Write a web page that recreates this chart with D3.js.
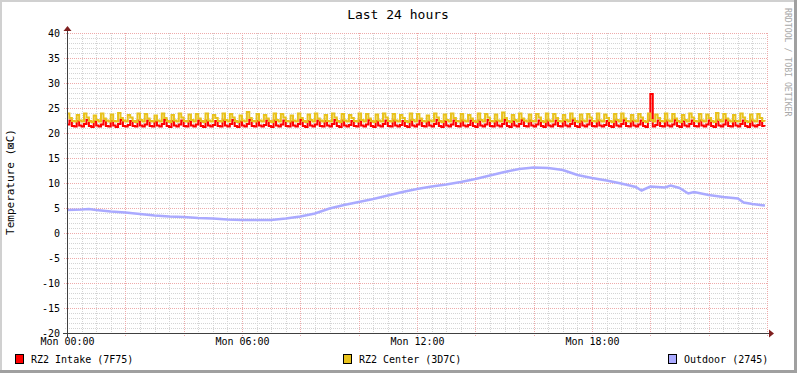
<!DOCTYPE html>
<meta charset="utf-8">
<html>
<head>
	<script src="https://cdn.jsdelivr.net/npm/d3@7/dist/d3.min.js"></script>
	<style>
		body { margin: 0; background: #fff; }
		text { font-family: "DejaVu Sans Mono", monospace; }
	</style>
</head>
<body>
<script>
	var title = "Last 24 hours";
	var yTitle = "Temperature (\u22A0C)";
	var watermark = "RRDTOOL / TOBI OETIKER";

	var xLabels = ["Mon 00:00", "Mon 06:00", "Mon 12:00", "Mon 18:00"];
	var xLabelHours = [0, 6, 12, 18];
	var yTicks = [40, 35, 30, 25, 20, 15, 10, 5, 0, -5, -10, -15, -20];

	var seriesNames = ["RZ2 Intake (7F75)", "RZ2 Center (3D7C)", "Outdoor (2745)"];
	var seriesColors = ["#ff0000", "#e8c21c", "#aaaaff"];

	// 5 minute steps, 288 per series
	var intake = [
		21.7,22.5,21.4,21.3,22.4,21.5,21.3,21.8,22.6,21.4,21.2,22.3,
		21.5,21.3,21.7,22.5,21.4,21.3,22.4,21.5,21.2,21.8,22.6,21.4,
		21.3,21.6,22.4,21.4,21.3,22.5,21.5,21.3,21.7,22.5,21.4,21.3,
		22.3,21.5,21.3,21.8,22.6,21.4,21.2,22.4,21.5,21.3,21.7,22.5,
		21.4,21.3,22.4,21.5,21.3,21.7,22.5,21.4,21.2,22.5,21.5,21.3,
		21.6,22.4,21.4,21.3,22.5,21.5,21.3,21.8,22.6,21.4,21.2,22.3,
		21.5,21.3,21.8,22.6,21.4,21.3,22.4,21.5,21.3,21.6,22.5,21.4,
		21.2,22.5,21.5,21.3,21.7,22.5,21.4,21.3,22.3,21.5,21.3,21.8,
		22.6,21.4,21.2,22.4,21.5,21.3,21.7,22.5,21.4,21.3,22.4,21.5,
		21.3,21.8,22.6,21.4,21.2,22.5,21.5,21.3,21.6,22.4,21.4,21.3,
		22.5,21.5,21.3,21.7,22.6,21.4,21.2,22.4,21.5,21.3,21.8,22.5,
		21.4,21.3,22.5,21.5,21.3,21.6,22.4,21.4,21.2,22.5,21.5,21.3,
		21.7,22.5,21.4,21.3,22.3,21.5,21.3,21.8,22.6,21.4,21.2,22.4,
		21.5,21.3,21.7,22.5,21.4,21.3,22.5,21.5,21.3,21.6,22.5,21.4,
		21.2,22.5,21.5,21.3,21.7,22.6,21.4,21.3,22.4,21.5,21.3,21.8,
		22.6,21.4,21.2,22.4,21.5,21.3,21.8,22.6,21.4,21.3,22.5,21.5,
		21.3,21.7,22.5,21.4,21.2,22.5,21.5,21.3,21.7,22.5,21.4,21.3,
		22.4,21.5,21.3,21.8,22.6,21.4,21.2,22.4,21.5,21.3,21.7,22.5,
		21.4,21.3,22.5,21.5,21.3,21.6,22.4,21.4,21.2,22.5,21.5,21.3,
		21.8,22.6,21.4,21.3,22.4,21.5,21.3,21.7,22.5,21.4,21.2,22.5,
		27.8,21.3,21.6,22.5,21.4,21.3,22.5,21.5,21.3,21.7,22.6,21.4,
		21.2,22.4,21.5,21.3,21.8,22.5,21.4,21.3,22.5,21.5,21.3,21.7,
		22.5,21.4,21.2,22.5,21.5,21.3,21.7,22.6,21.4,21.3,22.4,21.5,
		21.3,21.8,22.5,21.4,21.2,22.5,21.5,21.3,21.6,22.4,21.4,21.3
	];
	var center = [
		23.9,23.0,22.4,22.3,23.6,22.5,22.3,23.9,23.1,22.4,22.2,23.5,
		22.6,22.3,23.9,22.9,22.5,22.3,23.7,22.4,22.3,24.0,23.0,22.5,
		22.3,23.6,23.1,22.4,22.2,23.9,22.6,22.3,23.8,22.9,22.4,22.3,
		23.5,22.5,22.3,23.9,23.0,22.4,22.2,23.6,22.5,22.3,23.9,23.1,
		22.4,22.3,23.7,22.6,22.3,23.8,22.9,22.4,22.2,23.9,22.5,22.3,
		23.6,23.0,22.4,22.3,23.9,22.6,22.3,23.8,23.1,22.4,22.2,23.5,
		22.5,22.3,24.2,23.0,22.4,22.3,23.8,22.5,22.3,23.6,22.9,22.4,
		22.2,23.9,22.6,22.3,23.8,23.1,22.4,22.3,23.5,22.5,22.3,23.9,
		23.0,22.4,22.2,23.7,22.6,22.3,23.9,22.9,22.5,22.3,23.6,22.4,
		22.3,23.9,23.1,22.4,22.2,23.8,22.5,22.3,23.6,23.0,22.4,22.3,
		23.9,22.6,22.3,23.8,22.9,22.4,22.2,23.7,22.5,22.3,23.9,23.1,
		22.4,22.3,23.8,22.5,22.3,23.6,23.0,22.4,22.2,23.9,22.6,22.3,
		23.8,22.9,22.4,22.3,23.5,22.5,22.3,23.9,23.1,22.4,22.2,23.7,
		22.6,22.3,23.9,23.0,22.4,22.3,23.8,22.5,22.3,23.6,22.9,22.4,
		22.2,23.9,22.6,22.3,23.8,23.1,22.4,22.3,23.7,22.5,22.3,24.1,
		23.0,22.4,22.2,23.6,22.6,22.3,23.9,22.9,22.5,22.3,23.7,22.4,
		22.3,23.8,23.1,22.4,22.2,23.9,22.5,22.3,23.8,23.0,22.4,22.3,
		23.6,22.6,22.3,23.9,22.9,22.4,22.2,23.7,22.5,22.3,23.8,23.1,
		22.4,22.3,23.9,22.5,22.3,23.7,23.0,22.4,22.2,23.8,22.6,22.3,
		23.9,22.9,22.4,22.3,23.6,22.5,22.3,23.8,23.1,22.4,22.2,23.9,
		22.6,22.3,23.7,23.0,22.4,22.3,23.9,22.5,22.3,23.8,22.9,22.4,
		22.2,23.6,22.6,22.3,23.9,23.1,22.4,22.3,23.8,22.5,22.3,23.7,
		23.0,22.4,22.2,24.0,22.6,22.3,23.8,22.9,22.5,22.3,23.6,22.4,
		22.3,23.9,23.1,22.4,22.2,23.7,22.5,22.3,23.8,23.0,22.4,22.3
	];
	var outdoorHours = [0,0.5,0.75,1,1.5,2,2.5,3,3.5,4,4.5,5,5.5,6,6.5,7,7.5,8,8.5,9,9.5,10,10.5,11,11.5,12,12.5,13,13.5,14,14.5,15,15.5,16,16.5,17,17.5,18,18.5,19,19.5,19.7,20,20.5,20.7,21,21.3,21.5,22,22.5,23,23.2,23.5,23.93];
	var outdoorTemps = [4.6,4.7,4.8,4.6,4.3,4.1,3.8,3.5,3.3,3.2,3.0,2.9,2.7,2.6,2.6,2.6,2.9,3.3,3.9,4.9,5.6,6.2,6.8,7.5,8.2,8.8,9.3,9.7,10.2,10.8,11.5,12.2,12.8,13.1,13.0,12.6,11.6,11.0,10.5,9.9,9.2,8.5,9.3,9.1,9.5,9.0,7.9,8.2,7.6,7.2,6.9,6.1,5.8,5.5];

	var W = 797, H = 373;
	var plotLeft = 67, plotRight = 767, plotTop = 33, plotBottom = 333;

	var x = d3.scaleLinear().domain([0, 24]).range([plotLeft, plotRight]);
	var y = d3.scaleLinear().domain([-20, 40]).range([plotBottom, plotTop]);

	var svg = d3.select("body").append("svg")
		.attr("width", W)
		.attr("height", H);

	svg.append("rect").attr("width", W).attr("height", H).attr("fill", "#fff");

	// frame shading like rrdtool
	svg.append("rect").attr("x", 0).attr("y", 0).attr("width", W).attr("height", 2).attr("fill", "#d0d0d0");
	svg.append("rect").attr("x", 0).attr("y", 0).attr("width", 2).attr("height", H).attr("fill", "#d0d0d0");
	svg.append("rect").attr("x", 0).attr("y", H - 3).attr("width", W).attr("height", 3).attr("fill", "#a0a0a0");
	svg.append("rect").attr("x", W - 3).attr("y", 0).attr("width", 3).attr("height", H).attr("fill", "#a0a0a0");

	var grid = svg.append("g").attr("shape-rendering", "crispEdges");

	// minor grid
	grid.selectAll(".hminor").data(d3.range(-20, 41, 1).filter(function(v) { return v % 5 != 0; }))
		.enter().append("line")
			.attr("x1", plotLeft - 2).attr("x2", plotRight)
			.attr("y1", function(d) { return Math.round(y(d)) + 0.5; })
			.attr("y2", function(d) { return Math.round(y(d)) + 0.5; })
			.attr("stroke", "#d4d4d4").attr("stroke-dasharray", "1,1");
	grid.selectAll(".vminor").data(d3.range(0.5, 24.01, 0.5).filter(function(v) { return v % 2 != 0; }))
		.enter().append("line")
			.attr("y1", plotTop).attr("y2", plotBottom + 2)
			.attr("x1", function(d) { return Math.round(x(d)) + 0.5; })
			.attr("x2", function(d) { return Math.round(x(d)) + 0.5; })
			.attr("stroke", "#d4d4d4").attr("stroke-dasharray", "1,1");

	// major grid
	grid.selectAll(".hmajor").data(yTicks)
		.enter().append("line")
			.attr("x1", plotLeft - 3).attr("x2", plotRight)
			.attr("y1", function(d) { return Math.round(y(d)) + 0.5; })
			.attr("y2", function(d) { return Math.round(y(d)) + 0.5; })
			.attr("stroke", "#eeaaaa").attr("stroke-dasharray", "1,1");
	grid.selectAll(".vmajor").data(d3.range(2, 24.01, 2))
		.enter().append("line")
			.attr("y1", plotTop).attr("y2", plotBottom + 3)
			.attr("x1", function(d) { return Math.round(x(d)) + 0.5; })
			.attr("x2", function(d) { return Math.round(x(d)) + 0.5; })
			.attr("stroke", "#eeaaaa").attr("stroke-dasharray", "1,1");

	// data
	var stepLine = d3.line()
		.x(function(d, i) { return x(i * 5 / 60); })
		.y(function(d) { return y(d); })
		.curve(d3.curveStepAfter);

	svg.append("path").datum(intake)
		.attr("d", stepLine)
		.attr("fill", "none").attr("stroke", seriesColors[0]).attr("stroke-width", 2);
	svg.append("path").datum(center)
		.attr("d", stepLine)
		.attr("fill", "none").attr("stroke", seriesColors[1]).attr("stroke-width", 2);

	var outLine = d3.line()
		.x(function(d, i) { return x(outdoorHours[i]); })
		.y(function(d) { return y(d); });
	svg.append("path").datum(outdoorTemps)
		.attr("d", outLine)
		.attr("fill", "none").attr("stroke", seriesColors[2]).attr("stroke-width", 2.5);

	// axes
	var ax = svg.append("g").attr("shape-rendering", "crispEdges");
	ax.append("line").attr("x1", plotLeft - 4).attr("x2", plotRight + 3)
		.attr("y1", plotBottom + 0.5).attr("y2", plotBottom + 0.5).attr("stroke", "#404040");
	ax.append("line").attr("x1", plotLeft + 0.5).attr("x2", plotLeft + 0.5)
		.attr("y1", plotBottom + 4).attr("y2", plotTop - 4).attr("stroke", "#404040");
	svg.append("path")
		.attr("d", "M" + (plotRight + 2) + "," + (plotBottom - 3.5) + "L" + (plotRight + 7) + "," + (plotBottom + 0.5) + "L" + (plotRight + 2) + "," + (plotBottom + 4.5) + "Z")
		.attr("fill", "#7f1f1f");
	svg.append("path")
		.attr("d", "M" + (plotLeft - 3.5) + "," + (plotTop - 2) + "L" + (plotLeft + 0.5) + "," + (plotTop - 7) + "L" + (plotLeft + 4.5) + "," + (plotTop - 2) + "Z")
		.attr("fill", "#7f1f1f");

	// tick labels
	svg.selectAll(".ylab").data(yTicks)
		.enter().append("text")
			.attr("x", 60)
			.attr("y", function(d) { return y(d) + 3.5; })
			.attr("text-anchor", "end")
			.attr("font-size", 10)
			.attr("fill", "#000")
			.text(function(d) { return d; });

	svg.selectAll(".xlab").data(xLabels)
		.enter().append("text")
			.attr("x", function(d, i) { return x(xLabelHours[i]) + 0.5; })
			.attr("y", 345)
			.attr("text-anchor", "middle")
			.attr("font-size", 10)
			.attr("fill", "#000")
			.text(function(d) { return d; });

	svg.append("text")
		.attr("x", 398).attr("y", 18.5)
		.attr("text-anchor", "middle")
		.attr("font-size", 13)
		.attr("fill", "#000")
		.text(title);

	svg.append("text")
		.attr("transform", "translate(14,182) rotate(-90)")
		.attr("text-anchor", "middle")
		.attr("font-size", 11)
		.attr("fill", "#000")
		.text(yTitle);

	svg.append("text")
		.attr("transform", "translate(785,8) rotate(90)")
		.attr("font-size", 8.2)
		.attr("fill", "#a8a8a8")
		.text(watermark);

	// legend
	var legendX = [15, 343, 668];
	var legend = svg.selectAll(".legend").data(seriesNames)
		.enter().append("g")
			.attr("transform", function(d, i) { return "translate(" + legendX[i] + ",354)"; });
	legend.append("rect")
		.attr("x", 0.5).attr("y", 0.5)
		.attr("width", 8).attr("height", 9)
		.attr("fill", function(d, i) { return seriesColors[i]; })
		.attr("stroke", "#000")
		.attr("shape-rendering", "crispEdges");
	legend.append("text")
		.attr("x", 16).attr("y", 9)
		.attr("font-size", 10)
		.attr("fill", "#000")
		.text(function(d) { return d; });
</script>
</body>
</html>
